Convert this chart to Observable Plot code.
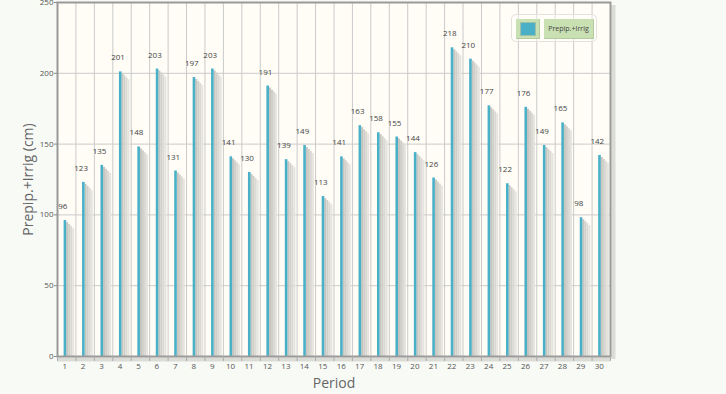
<!DOCTYPE html>
<html>
<head>
<meta charset="utf-8">
<script src="https://cdn.jsdelivr.net/npm/d3@7"></script>
<script src="https://cdn.jsdelivr.net/npm/@observablehq/plot@0.6"></script>
<style>
  html, body { margin: 0; padding: 0; background: #f8faf6; }
  #wrap { position: relative; width: 726px; height: 394px; font-family: "Open Sans", sans-serif; }
  #legend { position: absolute; left: 511px; top: 14px; width: 84px; height: 26px; border: 1px solid #e2e2dc; border-radius: 5px; background: rgba(255,255,255,0.4); }
  #legend .sw { position: absolute; left: 4px; top: 4px; width: 24px; height: 20px; background: #c9e0b2; border-right: 1px solid #b5c9a0; border-bottom: 1px solid #b5c9a0; box-sizing: border-box; }
  #legend .sw span { position: absolute; left: 4px; top: 3px; width: 14px; height: 12px; background: #4ab0c8; border: 1px solid #9fc0a8; }
  #legend .tx { position: absolute; left: 32px; top: 4px; width: 50px; height: 20px; background: #c9e0b2; border-right: 1px solid #b5c9a0; border-bottom: 1px solid #b5c9a0; box-sizing: border-box; font-size: 7px; line-height: 19px; text-align: center; color: #444; }
</style>
</head>
<body>
<div id="wrap">
  <div id="chart"></div>
  <div id="legend"><div class="sw"><span></span></div><div class="tx">Prepip.+Irrig</div></div>
</div>
<script>
const periods = d3.range(1, 31);
const values = [96,123,135,201,148,203,131,197,203,141,130,191,139,149,113,141,163,158,155,144,126,218,210,177,122,176,149,165,98,142];
const yTicks = [0, 50, 100, 150, 200, 250];
const seriesName = "Prepip.+Irrig";
const yLabel = "Prepip.+Irrig (cm)";
const xLabel = "Period";

const data = periods.map((p, i) => ({period: p, value: values[i]}));

const W = 726, H = 394, mL = 57, mR = 116, mT = 2, mB = 38;
const bw = (W - mL - mR) / periods.length;
const half = bw / 2;

const shadeColors = ["#c6c5bf", "#d0cfc9", "#dad9d3", "#e5e4de"];
const shadows = shadeColors.map((c, i) => Plot.barY(data, {
  x: "period", y: "value", fill: c,
  insetLeft: half + 2 * i, insetRight: half - 2 * i - 2, insetTop: 2 + 2 * i
}));

const chart = Plot.plot({
  width: W, height: H,
  marginLeft: mL, marginRight: mR, marginTop: mT, marginBottom: mB,
  style: {fontFamily: "Open Sans, sans-serif", background: "transparent", overflow: "visible"},
  x: {type: "band", domain: periods, padding: 0, round: false, axis: null},
  y: {type: "linear", domain: [0, 250], axis: null},
  marks: [
    Plot.frame({fill: "#fffdf6", stroke: null}),
    // grid
    Plot.ruleY(yTicks, {stroke: "#cacaca", strokeWidth: 1}),
    Plot.ruleX(periods, {x: d => d, dx: -half, stroke: "#cacaca", strokeWidth: 1}),
    Plot.ruleX([30], {x: d => d, dx: half, stroke: "#cacaca", strokeWidth: 1}),
    // shadows and bars
    ...shadows,
    Plot.barY(data, {x: "period", y: "value", fill: "#4ab0c8", insetLeft: half - 2.6, insetRight: half}),
    // value labels
    Plot.text(data, {x: "period", y: "value", text: d => String(d.value), dy: -14, dx: -4, fontSize: 8, fill: "#444"}),
    // floor shadow
    Plot.ruleY([0], {dy: 3, stroke: "#dcdcd6", strokeWidth: 4}),
    Plot.ruleX([30], {x: d => d, dx: half + 3, y1: 0, y2: 250, dy: 3, stroke: "#dcdcd6", strokeWidth: 4}),
    // frame
    Plot.frame({stroke: "#9a9a9a", strokeWidth: 2}),
    // x ticks
    Plot.ruleX(periods, {x: d => d, dx: -half, y1: 0, y2: -3.5, stroke: "#aaa", strokeWidth: 1}),
    Plot.ruleX([30], {x: d => d, dx: half, y1: 0, y2: -3.5, stroke: "#aaa", strokeWidth: 1}),
    Plot.text(periods, {x: d => d, y: 0, dy: 10, dx: -2, text: d => String(d), fontSize: 8, fill: "#555"}),
    // y axis
    Plot.axisY(yTicks, {tickSize: 3, tickPadding: 1, fontSize: 8, color: "#555", stroke: "#888", label: null, tickFormat: d => String(d)}),
    // axis titles
    Plot.text([yLabel], {frameAnchor: "left", dx: -29, rotate: -90, textAnchor: "middle", lineAnchor: "middle", fontSize: 14, fill: "#666", style: "letter-spacing: 2.4px"}),
    Plot.text([xLabel], {frameAnchor: "bottom", dy: 27, textAnchor: "middle", lineAnchor: "middle", fontSize: 14, fill: "#666"})
  ]
});
document.getElementById("chart").appendChild(chart);
</script>
</body>
</html>
